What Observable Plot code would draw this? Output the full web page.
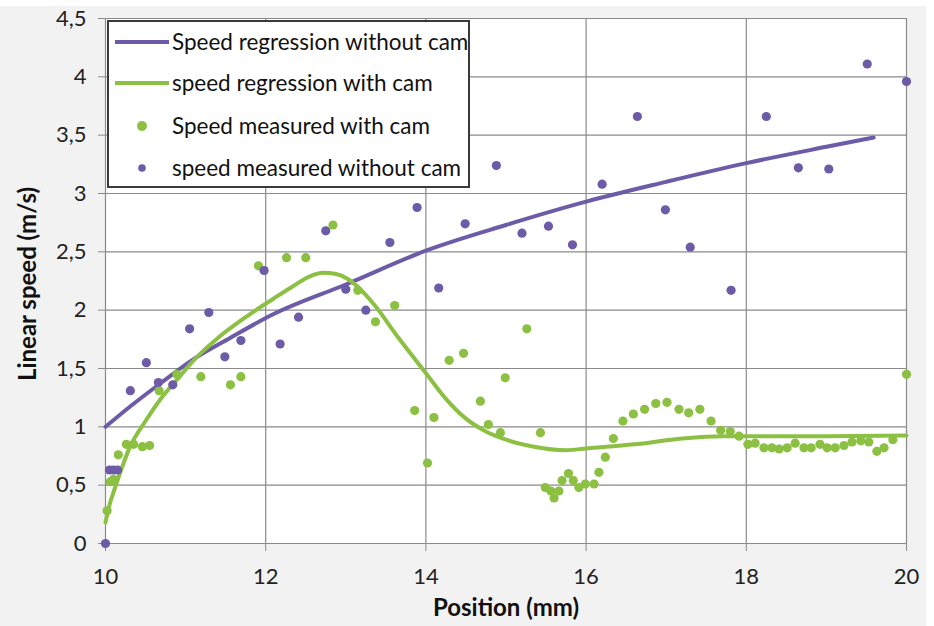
<!DOCTYPE html>
<html>
<head>
<meta charset="utf-8">
<script src="https://cdn.jsdelivr.net/npm/d3@7"></script>
<script src="https://cdn.jsdelivr.net/npm/@observablehq/plot@0.6"></script>
<style>
  html, body { margin: 0; padding: 0; background: #ffffff; }
  #wrap { position: relative; width: 934px; height: 626px; overflow: hidden; }
  #chart { position: absolute; left: 0; top: 0; }
  .strip { position: absolute; background: #ffffff; }
  #legend {
    position: absolute; left: 107px; top: 20px; width: 363px; height: 168px;
    box-sizing: border-box; border: 2px solid #3a3a3a; background: #ffffff;
    font-family: Lato, "Open Sans", sans-serif; font-size: 22.5px; color: #111;
  }
  .row { position: absolute; left: 0; height: 30px; line-height: 30px; white-space: nowrap; }
  .row svg { position: absolute; left: 4px; top: 0; }
  .row span { position: absolute; left: 63px; top: 0; }
</style>
</head>
<body>
<div id="wrap">
  <div id="chart"></div>
  <div class="strip" style="left:0;top:0;width:934px;height:6px;"></div>
  <div class="strip" style="left:926px;top:0;width:8px;height:626px;"></div>
  <div id="legend"></div>
</div>
<script>
// ---- Data ----
const xTicks = [10, 12, 14, 16, 18, 20];
const yTicks = [0, 0.5, 1, 1.5, 2, 2.5, 3, 3.5, 4, 4.5];

const measuredWithoutCamX = [10, 10.05, 10.1, 10.15, 10.31, 10.51, 10.66, 10.84, 11.05, 11.29, 11.49, 11.69, 11.98, 12.18, 12.41, 12.75, 13.0, 13.25, 13.55, 13.89, 14.16, 14.49, 14.88, 15.2, 15.53, 15.83, 16.2, 16.64, 16.99, 17.3, 17.81, 18.25, 18.65, 19.03, 19.51, 20.0];
const measuredWithoutCamY = [0, 0.63, 0.63, 0.63, 1.31, 1.55, 1.38, 1.36, 1.84, 1.98, 1.6, 1.74, 2.34, 1.71, 1.94, 2.68, 2.18, 2.0, 2.58, 2.88, 2.19, 2.74, 3.24, 2.66, 2.72, 2.56, 3.08, 3.66, 2.86, 2.54, 2.17, 3.66, 3.22, 3.21, 4.11, 3.96];

const measuredWithCamX = [10.02, 10.06, 10.1, 10.16, 10.26, 10.35, 10.46, 10.55, 10.67, 10.89, 11.19, 11.56, 11.69, 11.91, 12.26, 12.5, 12.84, 13.15, 13.37, 13.61, 13.86, 14.02, 14.1, 14.29, 14.47, 14.68, 14.78, 14.93, 14.99, 15.26, 15.43, 15.49, 15.56, 15.6, 15.66, 15.7, 15.78, 15.84, 15.91, 15.99, 16.1, 16.16, 16.24, 16.34, 16.46, 16.59, 16.73, 16.87, 17.01, 17.16, 17.28, 17.42, 17.56, 17.68, 17.8, 17.91, 18.02, 18.11, 18.22, 18.32, 18.41, 18.51, 18.61, 18.72, 18.81, 18.92, 19.01, 19.11, 19.22, 19.32, 19.43, 19.53, 19.63, 19.72, 19.83, 20.0];
const measuredWithCamY = [0.28, 0.53, 0.55, 0.76, 0.85, 0.85, 0.83, 0.84, 1.31, 1.45, 1.43, 1.36, 1.43, 2.38, 2.45, 2.45, 2.73, 2.17, 1.9, 2.04, 1.14, 0.69, 1.08, 1.57, 1.63, 1.22, 1.02, 0.95, 1.42, 1.84, 0.95, 0.48, 0.45, 0.39, 0.45, 0.54, 0.6, 0.54, 0.48, 0.51, 0.51, 0.61, 0.74, 0.9, 1.05, 1.11, 1.15, 1.2, 1.21, 1.15, 1.12, 1.15, 1.05, 0.97, 0.96, 0.92, 0.85, 0.86, 0.82, 0.82, 0.81, 0.82, 0.86, 0.82, 0.82, 0.85, 0.82, 0.82, 0.84, 0.87, 0.88, 0.87, 0.79, 0.82, 0.89, 1.45];

const regressionWithoutCamX = [10, 10.3, 10.7, 11.1, 11.55, 12.08, 13, 14, 15, 16, 17, 18, 19, 19.59];
const regressionWithoutCamY = [1.0, 1.17, 1.38, 1.58, 1.76, 1.96, 2.22, 2.51, 2.73, 2.93, 3.1, 3.26, 3.4, 3.48];

const regressionWithCamX = [10, 10.05, 10.12, 10.2, 10.3, 10.5, 10.7, 10.9, 11.1, 11.4, 11.75, 12.1, 12.35, 12.55, 12.72, 12.88, 13.02, 13.15, 13.35, 13.65, 14, 14.25, 14.5, 14.75, 15, 15.35, 15.75, 16, 16.6, 17.2, 17.7, 18, 19, 20];
const regressionWithCamY = [0.18, 0.33, 0.48, 0.64, 0.82, 1.05, 1.25, 1.41, 1.57, 1.76, 1.94, 2.1, 2.21, 2.29, 2.32, 2.31, 2.27, 2.2, 2.05, 1.77, 1.46, 1.24, 1.07, 0.96, 0.89, 0.83, 0.8, 0.815, 0.85, 0.9, 0.92, 0.92, 0.92, 0.925];

const seriesNames = ["Speed regression without cam", "speed regression with cam", "Speed measured with cam", "speed measured without cam"];
const xLabel = "Position (mm)";
const yLabel = "Linear speed (m/s)";
const purple = "#6d5ba8";
const green = "#8cc043";

const zip = (xs, ys) => xs.map((x, i) => ({x, y: ys[i]}));
const ptsWithout = zip(measuredWithoutCamX, measuredWithoutCamY);
const ptsWith = zip(measuredWithCamX, measuredWithCamY);
const regWithout = zip(regressionWithoutCamX, regressionWithoutCamY);
const regWith = zip(regressionWithCamX, regressionWithCamY);

const fmt = d => String(d).replace(".", ",");
const gridColor = "#8a8a8a";

const chart = Plot.plot({
  width: 934,
  height: 626,
  marginLeft: 105,
  marginRight: 28,
  marginTop: 18,
  marginBottom: 83,
  style: {background: "#f2f2f2", fontFamily: "Lato, 'Open Sans', sans-serif", fontSize: "22px", color: "#222", overflow: "visible"},
  x: {domain: [10, 20]},
  y: {domain: [0, 4.5]},
  marks: [
    Plot.frame({fill: "white", stroke: null}),
    Plot.gridX(xTicks, {stroke: gridColor, strokeOpacity: 1, strokeWidth: 1.2}),
    Plot.gridY(yTicks, {stroke: gridColor, strokeOpacity: 1, strokeWidth: 1.2}),
    Plot.axisX(xTicks, {tickSize: 8, tickPadding: 17, stroke: gridColor, tickFormat: fmt, label: null, fill: "#222"}),
    Plot.axisY(yTicks, {tickSize: 7, tickPadding: 12, stroke: gridColor, tickFormat: fmt, label: null, fill: "#222"}),
    Plot.text([xLabel], {frameAnchor: "bottom", dy: 65, lineAnchor: "middle", textAnchor: "middle", fontWeight: "bold", fontSize: 24, fill: "#111"}),
    Plot.text([yLabel], {frameAnchor: "left", dx: -77, dy: 3, rotate: -90, textAnchor: "middle", lineAnchor: "middle", fontWeight: "bold", fontSize: 24, fill: "#111"}),
    Plot.line(regWithout, {x: "x", y: "y", stroke: purple, strokeWidth: 4, curve: "monotone-x"}),
    Plot.line(regWith, {x: "x", y: "y", stroke: green, strokeWidth: 4, curve: "monotone-x"}),
    Plot.dot(ptsWith, {x: "x", y: "y", r: 4.6, fill: green, stroke: null}),
    Plot.dot(ptsWithout, {x: "x", y: "y", r: 4.6, fill: purple, stroke: null})
  ]
});
document.getElementById("chart").appendChild(chart);

// ---- Legend (HTML overlay inside the plot area, as in the reference) ----
const legend = document.getElementById("legend");
const rowCenters = [20, 61, 104, 146];
const kinds = [
  {type: "line", color: purple},
  {type: "line", color: green},
  {type: "dot", color: green, r: 5},
  {type: "dot", color: purple, r: 3.8}
];
seriesNames.forEach((name, i) => {
  const row = document.createElement("div");
  row.className = "row";
  row.style.top = (rowCenters[i] - 15) + "px";
  row.style.width = "358px";
  const k = kinds[i];
  const sample = k.type === "line"
    ? `<svg width="56" height="30"><line x1="2" y1="15" x2="56" y2="15" stroke="${k.color}" stroke-width="4"/></svg>`
    : `<svg width="56" height="30"><circle cx="29" cy="15" r="${k.r}" fill="${k.color}"/></svg>`;
  row.innerHTML = sample + `<span>${name}</span>`;
  legend.appendChild(row);
});
</script>
</body>
</html>
